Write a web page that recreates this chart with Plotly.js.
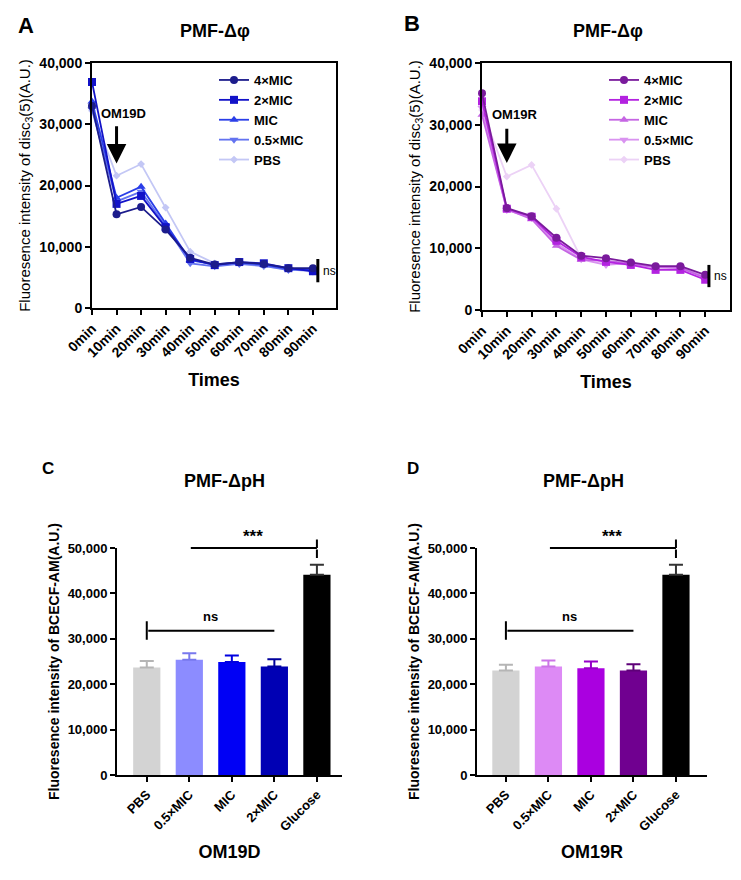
<!DOCTYPE html>
<html><head><meta charset="utf-8">
<script src="https://cdn.plot.ly/plotly-3.0.1.min.js"></script>
<style>html,body{margin:0;padding:0;background:#fff}#chart{width:741px;height:880px}</style>
</head><body><div id="chart"></div>
<script>
// ---------- data ----------
const timePoints = [0, 10, 20, 30, 40, 50, 60, 70, 80, 90];
const timeLabels = ['0min','10min','20min','30min','40min','50min','60min','70min','80min','90min'];
const seriesNames = ['4×MIC', '2×MIC', 'MIC', '0.5×MIC', 'PBS'];

// Panel A (OM19D) membrane potential
const om19dFourMIC = [33000, 15300, 16500, 12800, 8200, 7100, 7500, 7200, 6500, 6500];
const om19dTwoMIC  = [36900, 17000, 18300, 13200, 8000, 7000, 7500, 7300, 6500, 6000];
const om19dMIC     = [33700, 18000, 19800, 13800, 7800, 7100, 7400, 7100, 6400, 6200];
const om19dHalfMIC = [32400, 17400, 19000, 13400, 7300, 6800, 7200, 6900, 6200, 6300];
const om19dPBS     = [32200, 21600, 23500, 16400, 9200, 7300, 7200, 6800, 6400, 5900];

// Panel B (OM19R) membrane potential
const om19rFourMIC = [35100, 16500, 15200, 11700, 8800, 8400, 7700, 7100, 7100, 5700];
const om19rTwoMIC  = [33800, 16400, 15100, 11200, 8600, 7800, 7300, 6500, 6500, 4900];
const om19rMIC     = [31600, 16300, 14700, 10400, 8100, 8000, 7500, 6900, 6800, 5200];
const om19rHalfMIC = [32700, 16200, 14900, 10800, 8200, 7300, 7600, 7000, 6900, 5300];
const om19rPBS     = [32400, 21600, 23500, 16400, 8400, 7600, 7300, 6900, 7000, 5300];

// Panels C/D pH gradient bars
const barCategories = ['PBS', '0.5×MIC', 'MIC', '2×MIC', 'Glucose'];
const om19dBarMeans  = [23700, 25400, 24900, 23900, 44100];
const om19dBarErrors = [1400, 1400, 1400, 1600, 2200];
const om19rBarMeans  = [23000, 23900, 23500, 23000, 44100];
const om19rBarErrors = [1300, 1300, 1500, 1400, 2200];

// ---------- styles ----------
const FONT = 'Arial, "Liberation Sans", sans-serif';
const symbols = ['circle', 'square', 'triangle-up', 'triangle-down', 'diamond'];
const msizes = [8, 8, 8, 8, 6];
const blueLine = ['#1c1c8c', '#1212c8', '#2a3ee8', '#6373f0', '#c3c7f5'];
const purpleLine = ['#7a1a9c', '#b322e0', '#c565e3', '#d993f0', '#ecd2f6'];
const blueBars = ['#d3d3d3', '#8c8cff', '#0000f5', '#0000b4', '#000000'];
const blueErr  = ['#b5b5b5', '#7878ee', '#0000e0', '#00009c', '#333333'];
const purpleBars = ['#d3d3d3', '#dd8af5', '#aa00e0', '#700090', '#000000'];
const purpleErr  = ['#b5b5b5', '#cc74e8', '#9600c8', '#5e0078', '#333333'];

const traces = [];
function addLines(seriesArr, colors, xa, ya, legendId) {
  // draw PBS first so darker series sit on top; legendrank keeps legend order
  for (let i = seriesArr.length - 1; i >= 0; i--) {
    traces.push({
      type: 'scatter', mode: 'lines+markers',
      x: timePoints, y: seriesArr[i], name: seriesNames[i],
      xaxis: xa, yaxis: ya, legend: legendId, legendrank: i + 1,
      cliponaxis: false,
      line: {color: colors[i], width: 1.8},
      marker: {symbol: symbols[i], size: msizes[i], color: colors[i]}
    });
  }
}
addLines([om19dFourMIC, om19dTwoMIC, om19dMIC, om19dHalfMIC, om19dPBS], blueLine, 'x', 'y', 'legend');
addLines([om19rFourMIC, om19rTwoMIC, om19rMIC, om19rHalfMIC, om19rPBS], purpleLine, 'x2', 'y2', 'legend2');

function addBars(means, errs, colors, ecolors, xa, ya) {
  barCategories.forEach((c, i) => {
    traces.push({
      type: 'bar', x: [c], y: [means[i]], xaxis: xa, yaxis: ya,
      width: 0.64, showlegend: false,
      marker: {color: colors[i], line: {width: 0}},
      error_y: {type: 'data', array: [errs[i]], arrayminus: [0], symmetric: false,
                color: ecolors[i], thickness: 2, width: 7}
    });
  });
}
addBars(om19dBarMeans, om19dBarErrors, blueBars, blueErr, 'x3', 'y3');
addBars(om19rBarMeans, om19rBarErrors, purpleBars, purpleErr, 'x4', 'y4');

// ---------- axes ----------
const W = 741, H = 880;
const px = v => v / W, py = v => 1 - v / H;
function lineX(dom, title, range) {
  return {
    domain: dom, range: range, tickmode: 'array', tickvals: timePoints, ticktext: timeLabels,
    tickangle: -45, ticks: 'outside', ticklen: 5, tickwidth: 2, tickcolor: '#000',
    showline: true, linewidth: 2, linecolor: '#000', mirror: true, showgrid: false, zeroline: false,
    tickfont: {family: FONT, size: 14, weight: 700, color: '#000'},
    title: {text: 'Times', font: {family: FONT, size: 18, weight: 700, color: '#000'}, standoff: 14}
  };
}
function lineY(dom) {
  return {
    domain: dom, range: [0, 40000], dtick: 10000, tickformat: ',d',
    ticks: 'outside', ticklen: 5, tickwidth: 2, tickcolor: '#000',
    showline: true, linewidth: 2, linecolor: '#000', mirror: true, showgrid: false, zeroline: false,
    tickfont: {family: FONT, size: 14, weight: 700, color: '#000'},
    title: {text: 'Fluoresence intensity of disc<sub>3</sub>(5)(A.U.)',
            font: {family: FONT, size: 15, color: '#000'}, standoff: 5}
  };
}
function barX(dom, title, range) {
  return {
    domain: dom, type: 'category', range: range, categoryorder: 'array', categoryarray: barCategories,
    tickangle: -45, ticks: 'outside', ticklen: 5, tickwidth: 2, tickcolor: '#000',
    showline: true, linewidth: 2, linecolor: '#000', showgrid: false, zeroline: false,
    tickfont: {family: FONT, size: 13, weight: 700, color: '#000'},
    title: {text: title, font: {family: FONT, size: 18, weight: 700, color: '#000'}, standoff: 12}
  };
}
function barY(dom) {
  return {
    domain: dom, range: [0, 50000], dtick: 10000, tickformat: ',d',
    ticks: 'outside', ticklen: 5, tickwidth: 2, tickcolor: '#000',
    showline: true, linewidth: 2, linecolor: '#000', showgrid: false, zeroline: false,
    tickfont: {family: FONT, size: 13, weight: 700, color: '#000'},
    title: {text: 'Fluoresence intensity of BCECF-AM(A.U.)',
            font: {family: FONT, size: 14, weight: 700, color: '#000'}, standoff: 5}
  };
}

// ---------- annotations ----------
const ann = [];
function txt(x, y, t, size) {
  ann.push({xref: 'paper', yref: 'paper', x: px(x), y: py(y), xanchor: 'center', yanchor: 'middle',
    text: t, showarrow: false, font: {family: FONT, size: size, weight: 700, color: '#000'}});
}
txt(26, 25, 'A', 22); txt(412, 24, 'B', 22);
txt(48, 468, 'C', 17); txt(413, 468, 'D', 17);
txt(215, 31, 'PMF-Δφ', 18); txt(608, 31, 'PMF-Δφ', 18);
txt(225, 481, 'PMF-ΔpH', 18); txt(583, 481, 'PMF-ΔpH', 18);

function linePanelAnn(xa, ya, label, labelY, tailY, tipY, nsX, nsY0, nsY1) {
  ann.push({xref: xa, yref: ya, x: 13, y: labelY, text: label, showarrow: false,
    font: {family: FONT, size: 13, weight: 700, color: '#000'}});
  ann.push({xref: xa, yref: ya, axref: xa, ayref: ya, x: 10, y: tipY, ax: 10, ay: tailY,
    text: '', showarrow: true, arrowhead: 2, arrowsize: 1.3, arrowwidth: 3, arrowcolor: '#000', standoff: 0});
  ann.push({xref: xa, yref: ya, x: nsX + 1.2, y: (nsY0 + nsY1) / 2, text: 'ns', showarrow: false,
    xanchor: 'left', font: {family: FONT, size: 12, color: '#000'}});
}
linePanelAnn('x', 'y', 'OM19D', 31800, 29900, 23600, 92, 4200, 8000);
linePanelAnn('x2', 'y2', 'OM19R', 31600, 29600, 23800, 91.5, 3700, 7300);

function seg(xa, ya, x, y, axv, ayv) {
  ann.push({xref: xa, yref: ya, axref: xa, ayref: ya, x: x, y: y, ax: axv, ay: ayv, text: '',
    showarrow: true, arrowhead: 0, arrowwidth: 2, arrowcolor: '#000', standoff: 0, startstandoff: 0});
}
function barPanelAnn(xa, ya) {
  seg(xa, ya, 4, 50000, 1, 50000);
  seg(xa, ya, 4, 47800, 4, 50000);
  seg(xa, ya, 4, 50000, 4, 52200);
  ann.push({xref: xa, yref: ya, x: 2.5, y: 50000, yshift: 12, text: '***', showarrow: false,
    font: {family: FONT, size: 17, weight: 700, color: '#000'}});
  seg(xa, ya, 3, 31800, 0, 31800);
  seg(xa, ya, 0, 29800, 0, 34200);
  ann.push({xref: xa, yref: ya, x: 1.5, y: 34900, text: 'ns', showarrow: false,
    font: {family: FONT, size: 13, weight: 700, color: '#000'}});
}
barPanelAnn('x3', 'y3');
barPanelAnn('x4', 'y4');

const shapes = [
  {type: 'line', xref: 'x', yref: 'y', x0: 92, x1: 92, y0: 4200, y1: 8000, line: {color: '#000', width: 3}},
  {type: 'line', xref: 'x2', yref: 'y2', x0: 91.5, x1: 91.5, y0: 3700, y1: 7300, line: {color: '#000', width: 3}}
];

const legendStyle = {
  xanchor: 'left', yanchor: 'top', bgcolor: 'rgba(0,0,0,0)', borderwidth: 0,
  font: {family: FONT, size: 13, weight: 700, color: '#000'}, itemwidth: 30, tracegroupgap: 0
};

const layout = {
  width: W, height: H, margin: {l: 0, r: 0, t: 0, b: 0},
  paper_bgcolor: '#fff', plot_bgcolor: '#fff', barmode: 'overlay',
  font: {family: FONT, color: '#000'},
  xaxis:  Object.assign(lineX([px(92), px(336)], 'Times', [0, 99.4]), {anchor: 'y'}),
  yaxis:  Object.assign(lineY([py(308), py(63)]), {anchor: 'x'}),
  xaxis2: Object.assign(lineX([px(482), px(730)], 'Times', [0, 100]), {anchor: 'y2'}),
  yaxis2: Object.assign(lineY([py(310), py(63)]), {anchor: 'x2'}),
  xaxis3: Object.assign(barX([px(117), px(342)], 'OM19D', [-0.7, 4.59]), {anchor: 'y3'}),
  yaxis3: Object.assign(barY([py(775), py(548)]), {anchor: 'x3'}),
  xaxis4: Object.assign(barX([px(477), px(707)], 'OM19R', [-0.68, 4.73]), {anchor: 'y4'}),
  yaxis4: Object.assign(barY([py(775), py(548)]), {anchor: 'x4'}),
  legend:  Object.assign({x: px(214), y: py(65)}, legendStyle),
  legend2: Object.assign({x: px(604), y: py(65)}, legendStyle),
  annotations: ann, shapes: shapes
};

Plotly.newPlot('chart', traces, layout, {displayModeBar: false, staticPlot: true});
</script>
</body></html>
